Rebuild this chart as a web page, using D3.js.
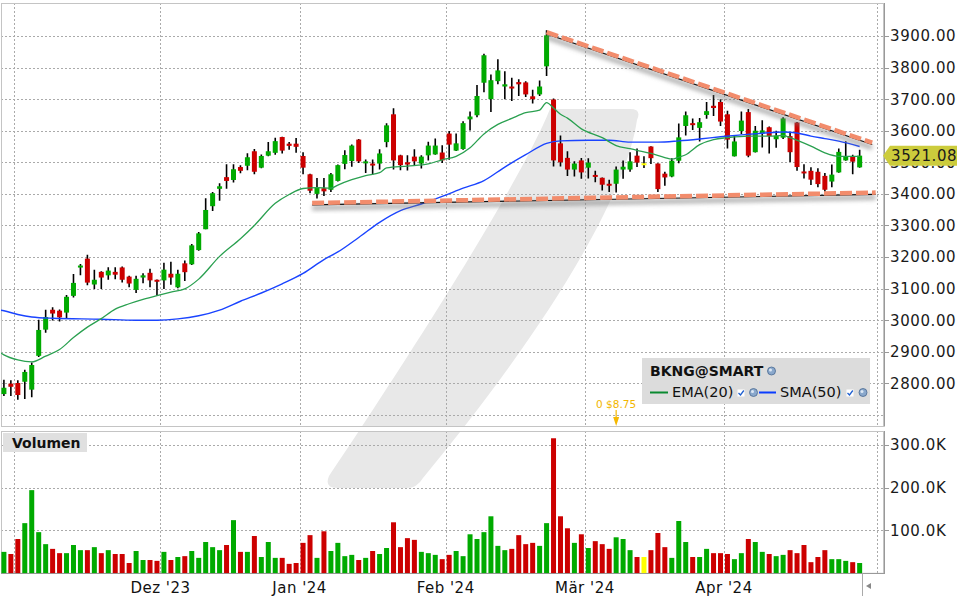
<!DOCTYPE html>
<html><head><meta charset="utf-8">
<script src="https://cdn.jsdelivr.net/npm/d3@7"></script>
<style>
body{margin:0;background:#fff}
svg{display:block}
text{font-family:"DejaVu Sans",Verdana,sans-serif}
</style>
</head><body>
<svg id="c" width="960" height="600"></svg>
<script>
// ---------------- DATA ----------------
const firstDay = "2023-10-30";
const lastDay = "2024-05-01";
const holidays = ["2023-11-23","2023-12-25","2024-01-01","2024-01-15","2024-02-19","2024-03-29"];

const opens = [2766,2799,2801,2805,2780,2887,2970,3033,3030,3024,3077,3167,3195,3113,3153,3142,3153,3167,3138,3096,3135,3150,3128,
3126,3147,3104,3180,3177,3222,3288,3361,3416,3453,3444,3485,3489,3535,3483,3521,3530,3580,3559,3559,
3520,3462,3400,3418,3413,3441,3495,3504,3572,3497,3496,3496,3564,3652,3522,3500,3518,3496,3522,3525,3531,
3591,3537,3542,3636,3649,3752,3700,3757,3740,3740,3754,3753,3709,3715,3804,3699,3560,3514,3477,3506,
3483,3460,3451,3432,3432,3477,3477,3521,3497,3550,3496,3464,3455,3505,3615,3624,3609,3650,3679,3691,
3652,3519,3599,3659,3532,3591,3611,3573,3578,3583,3626,3471,3473,3470,3457,3439,3468,3506,3517,3484];
const highs = [2811,2810,2810,2843,2866,3001,3033,3041,3034,3080,3146,3178,3207,3160,3155,3168,3168,3170,3141,3141,3149,3163,3129,
3182,3185,3160,3189,3241,3279,3386,3406,3434,3494,3494,3491,3529,3542,3525,3564,3578,3581,3564,3577,
3532,3464,3450,3450,3466,3493,3538,3556,3574,3509,3509,3541,3624,3671,3524,3522,3541,3522,3565,3575,3554,
3599,3591,3630,3661,3745,3844,3778,3826,3788,3768,3763,3757,3730,3759,3918,3702,3585,3535,3503,3514,
3513,3473,3452,3445,3487,3506,3532,3544,3519,3551,3497,3470,3513,3623,3661,3639,3640,3691,3713,3700,
3663,3583,3661,3669,3615,3633,3613,3600,3643,3594,3628,3494,3484,3481,3466,3493,3544,3567,3524,3540];
const lows = [2760,2760,2748,2750,2756,2883,2960,2999,2996,3006,3072,3142,3111,3099,3099,3128,3130,3119,3104,3086,3117,3104,3077,
3099,3112,3101,3124,3175,3220,3288,3346,3378,3416,3436,3465,3475,3462,3481,3519,3524,3528,3540,3530,
3462,3402,3385,3393,3406,3439,3478,3486,3498,3466,3461,3477,3548,3477,3475,3474,3490,3480,3506,3524,3498,
3508,3536,3540,3601,3643,3722,3659,3747,3700,3694,3710,3707,3686,3710,3773,3487,3487,3457,3455,3448,
3449,3437,3411,3406,3404,3448,3470,3485,3482,3495,3406,3426,3453,3497,3585,3602,3566,3638,3647,3615,
3544,3518,3590,3516,3531,3547,3528,3546,3574,3501,3473,3449,3428,3421,3407,3421,3467,3505,3462,3483];
const closes = [2786,2789,2763,2836,2858,2969,3010,3021,3009,3074,3118,3173,3119,3128,3135,3157,3144,3128,3116,3131,3142,3126,3122,
3160,3135,3147,3152,3237,3275,3349,3402,3424,3441,3478,3473,3516,3470,3520,3535,3567,3537,3552,3549,
3483,3410,3420,3408,3462,3491,3523,3553,3503,3503,3490,3528,3617,3506,3491,3493,3503,3518,3553,3553,3506,
3556,3560,3624,3645,3710,3839,3760,3791,3747,3734,3747,3715,3700,3740,3902,3506,3500,3477,3496,3468,
3499,3454,3429,3426,3477,3486,3503,3499,3497,3513,3415,3452,3505,3579,3649,3618,3627,3662,3672,3629,
3572,3566,3632,3521,3600,3601,3583,3584,3639,3532,3485,3465,3445,3431,3413,3461,3533,3519,3502,3521.08];
// volume in thousands
const volumes = [50,45,80,117,194,96,68,57,47,47,66,54,54,61,47,54,45,45,24,52,31,31,29,
50,31,38,40,52,36,73,61,54,66,124,50,50,87,38,73,36,36,22,24,
71,89,36,98,52,71,40,43,31,36,52,45,59,119,61,82,78,50,47,43,33,
43,52,40,91,80,96,133,64,54,57,89,68,71,64,117,315,133,105,71,91,
59,75,68,57,84,80,54,38,38,54,94,61,36,122,73,38,38,57,47,47,
45,33,47,80,73,50,45,40,43,54,47,66,26,38,54,33,33,29,26,24];

// EMA(20) read at bar positions
const emaIdx = [-0.5,0,2,4,6,8,10,12,14,16,18,20,22,24,26,28,31,34,36,39,41,43,45,47,48,50,52,54,55,58,61,63,65,67,69,71,73,75,77,78,79,80,81,83,86,88,90,91,93,95,96,97,98,100,102,104,107,110,112,113,116,118,120,123];
const emaVal = [2897,2890,2874,2868,2886,2907,2945,2978,3005,3035,3052,3066,3078,3089,3099,3130,3202,3258,3300,3370,3398,3417,3420,3418,3428,3445,3458,3467,3482,3488,3495,3508,3519,3546,3590,3620,3639,3657,3665,3689,3672,3652,3640,3606,3578,3553,3543,3538,3528,3515,3510,3516,3524,3556,3572,3578,3583,3583,3585,3578,3551,3530,3519,3519];
// SMA(50) read at bar positions
const smaIdx = [-0.5,0,2,4,7,14,19,22,25,28,31,34,37,40,43,46,48,51,54,57,60,63,66,69,72,75,78,80,84,87,90,94,97,100,103,106,109,112,114,116,118,120,123];
const smaVal = [3032,3030,3018,3010,3006,3003,3000,3000,3004,3014,3032,3060,3086,3115,3148,3192,3216,3262,3310,3347,3368,3392,3418,3442,3485,3524,3560,3568,3570,3570,3564,3564,3568,3574,3581,3587,3592,3596,3593,3583,3575,3567,3550];

// trend lines (bar position, price)
const upperTrendIdx = [78, 124.8];
const upperTrendVal = [3912, 3562];
const lowerTrendIdx = [44.3, 125.3];
const lowerTrendVal = [3371, 3404];

const priceTicks = [2700,2800,2900,3000,3100,3200,3300,3400,3500,3600,3700,3800,3900];
const priceLabels = ["","2800.00","2900.00","3000.00","3100.00","3200.00","3300.00","3400.00","3500.00","3600.00","3700.00","3800.00","3900.00"];
const volumeTicks = [100,200,300];
const volumeLabels = ["100.0K","200.0K","300.0K"];
const monthNames = ["Jan","Feb","Mär","Apr","Mai","Jun","Jul","Aug","Sep","Okt","Nov","Dez"];
const shownMonthLabels = ["Dez '23","Jan '24","Feb '24","Mär '24","Apr '24"];
const lastPriceLabel = "3521.08";
const symbolName = "BKNG@SMART";
const legendItems = ["EMA(20)","SMA(50)"];
const dividendIdx = 88;
const dividendText = "0 $8.75";

// ---------------- DATES ----------------
function buildDays(){
  const out=[]; const fmt=d3.utcFormat("%Y-%m-%d");
  let d=new Date(firstDay+"T00:00:00Z"); const end=new Date(lastDay+"T00:00:00Z");
  while(d<=end){
    const wd=d.getUTCDay(); const s=fmt(d);
    if(wd!==0&&wd!==6&&!holidays.includes(s)) out.push(new Date(d));
    d=new Date(d.getTime()+86400000);
  }
  return out;
}
const days = buildDays();

// ---------------- LAYOUT ----------------
const svg = d3.select("#c");
const L=1, R=884, PT=3, PB=426.5, VT=431, VB=573.3;

const x = d3.scaleBand().domain(d3.range(days.length)).range([0.43, R]);
const step = x.step();
const xc = d3.scaleLinear().domain([0, days.length-1]).range([x(0)+step/2, x(days.length-1)+step/2]);
const y = d3.scaleLinear().domain([2700, 3900]).range([414.9, 36]);
const yv = d3.scaleLinear().domain([0, 300]).range([VB, 444.7]);

const defs = svg.append("defs");
defs.append("clipPath").attr("id","cp").append("rect").attr("x",L).attr("y",PT).attr("width",R-L).attr("height",PB-PT);
defs.append("clipPath").attr("id","cv").append("rect").attr("x",L).attr("y",VT).attr("width",R-L).attr("height",VB-VT);
const f = defs.append("filter").attr("id","blur").attr("x","-10%").attr("y","-50%").attr("width","120%").attr("height","200%");
f.append("feGaussianBlur").attr("stdDeviation",2.2);

// watermark (curved slash logo)
const wmPath = "M550,109 L630,109 Q642,109 637,120 C625,200 545,330 423,478 Q417,488 407,488 L337,488 Q324,488 329,476 C380,400 515,195 550,109 Z";
svg.append("g").attr("clip-path","url(#cp)").append("path").attr("d",wmPath).attr("fill","#e8e8e8");
svg.append("g").attr("clip-path","url(#cv)").append("path").attr("d",wmPath).attr("fill","#e8e8e8");

const gridColor="#aaaaaa";
// horizontal grids price
svg.append("g").selectAll("line").data(priceTicks).join("line")
  .attr("x1",L).attr("x2",R).attr("y1",d=>Math.round(y(d))+0.5).attr("y2",d=>Math.round(y(d))+0.5)
  .attr("stroke",gridColor).attr("stroke-dasharray","2,2");
svg.append("g").selectAll("line").data(volumeTicks).join("line")
  .attr("x1",L).attr("x2",R).attr("y1",d=>Math.round(yv(d))+0.5).attr("y2",d=>Math.round(yv(d))+0.5)
  .attr("stroke",gridColor).attr("stroke-dasharray","2,2");

// month starts
const monthStarts = days.map((d,i)=>({d,i})).filter((o,k,a)=>k>0 && o.d.getUTCMonth()!==a[k-1].d.getUTCMonth());
const mx = o => Math.round(x(o.i))+0.5;
svg.append("g").selectAll("line").data(monthStarts).join("line")
  .attr("x1",mx).attr("x2",mx).attr("y1",PT).attr("y2",PB).attr("stroke",gridColor).attr("stroke-dasharray","2,2");
svg.append("g").selectAll("line").data(monthStarts).join("line")
  .attr("x1",mx).attr("x2",mx).attr("y1",VT).attr("y2",VB).attr("stroke",gridColor).attr("stroke-dasharray","2,2");
const monthLabel = d => monthNames[d.getUTCMonth()]+" '"+String(d.getUTCFullYear()).slice(2);
svg.append("g").selectAll("text").data(monthStarts.filter(o=>shownMonthLabels.includes(monthLabel(o.d)))).join("text")
  .attr("x",o=>x(o.i)).attr("y",592.5).attr("text-anchor","middle")
  .attr("font-size",15).attr("letter-spacing",0.5).attr("fill","#111").text(o=>monthLabel(o.d));

// panel borders
svg.append("rect").attr("x",L+0.5).attr("y",PT+0.5).attr("width",R-L-1).attr("height",PB-PT-0.5).attr("fill","none").attr("stroke","#c4c4c4");
svg.append("rect").attr("x",L+0.5).attr("y",VT+0.5).attr("width",R-L-1).attr("height",VB-VT-0.5).attr("fill","none").attr("stroke","#c4c4c4");
svg.append("line").attr("x1",R+0.5).attr("x2",R+0.5).attr("y1",PT).attr("y2",PB).attr("stroke","#999");
svg.append("line").attr("x1",R+0.5).attr("x2",R+0.5).attr("y1",VT).attr("y2",VB).attr("stroke","#999");
svg.append("line").attr("x1",L).attr("x2",R+1).attr("y1",Math.round(VB)+0.5).attr("y2",Math.round(VB)+0.5).attr("stroke","#999");

// price axis labels
const pt = priceTicks.map((v,k)=>({v,l:priceLabels[k]})).filter(o=>o.l);
svg.append("g").selectAll("line").data(pt).join("line")
  .attr("x1",R).attr("x2",R+5).attr("y1",o=>Math.round(y(o.v))+0.5).attr("y2",o=>Math.round(y(o.v))+0.5).attr("stroke","#999");
svg.append("g").selectAll("text").data(pt).join("text")
  .attr("x",890).attr("y",o=>y(o.v)).attr("dy","0.36em").attr("font-size",15).attr("letter-spacing",0.6)
  .attr("fill","#1a1a1a").text(o=>o.l);
const vt = volumeTicks.map((v,k)=>({v,l:volumeLabels[k]}));
svg.append("g").selectAll("line").data(vt).join("line")
  .attr("x1",R).attr("x2",R+5).attr("y1",o=>Math.round(yv(o.v))+0.5).attr("y2",o=>Math.round(yv(o.v))+0.5).attr("stroke","#999");
svg.append("g").selectAll("text").data(vt).join("text")
  .attr("x",890).attr("y",o=>yv(o.v)).attr("dy","0.36em").attr("font-size",15).attr("letter-spacing",0.6)
  .attr("fill","#1a1a1a").text(o=>o.l);

// ---------------- MARKS ----------------
const bars = closes.map((c,i)=>({i,o:opens[i],h:highs[i],l:lows[i],c,v:volumes[i]}));
const col = d => d.c>d.o ? "#00aa00" : (d.c<d.o ? "#cc0000" : "#ffff00");
const bw = 5;
const gp = svg.append("g").attr("clip-path","url(#cp)");

// candles
gp.append("g").selectAll("line").data(bars).join("line")
  .attr("x1",d=>xc(d.i)).attr("x2",d=>xc(d.i)).attr("y1",d=>y(d.h)).attr("y2",d=>y(d.l))
  .attr("stroke","#000").attr("stroke-width",1.6);
gp.append("g").selectAll("rect").data(bars).join("rect")
  .attr("x",d=>xc(d.i)-bw/2).attr("width",bw)
  .attr("y",d=>y(Math.max(d.o,d.c))).attr("height",d=>Math.max(2,Math.abs(y(d.o)-y(d.c))))
  .attr("fill",col);

// moving averages
const lineGen = d3.line().x(d=>xc(d[0])).y(d=>y(d[1])).curve(d3.curveMonotoneX);
gp.append("path").datum(smaIdx.map((k,j)=>[k,smaVal[j]])).attr("d",lineGen)
  .attr("fill","none").attr("stroke","#1a44ff").attr("stroke-width",1.4);
gp.append("path").datum(emaIdx.map((k,j)=>[k,emaVal[j]])).attr("d",lineGen)
  .attr("fill","none").attr("stroke","#2aa050").attr("stroke-width",1.3);

// trend lines
function trend(ix, vals){
  const pts = ix.map((k,j)=>[xc(k), y(vals[j])]);
  const g = gp.append("g");
  g.append("line").attr("x1",pts[0][0]).attr("y1",pts[0][1]+5).attr("x2",pts[1][0]).attr("y2",pts[1][1]+5)
    .attr("stroke","#777").attr("stroke-opacity",0.55).attr("stroke-width",5).attr("filter","url(#blur)");
  g.append("line").attr("x1",pts[0][0]).attr("y1",pts[0][1]+1.8).attr("x2",pts[1][0]).attr("y2",pts[1][1]+1.8)
    .attr("stroke","#111").attr("stroke-width",1.1);
  g.append("line").attr("x1",pts[0][0]).attr("y1",pts[0][1]).attr("x2",pts[1][0]).attr("y2",pts[1][1])
    .attr("stroke","#f28c6c").attr("stroke-width",4.5).attr("stroke-dasharray","12,4");
}
trend(upperTrendIdx, upperTrendVal);
trend(lowerTrendIdx, lowerTrendVal);

// volume bars
svg.append("g").attr("clip-path","url(#cv)").selectAll("rect").data(bars).join("rect")
  .attr("x",d=>xc(d.i)-bw/2).attr("width",bw).attr("y",d=>yv(d.v)).attr("height",d=>yv(0)-yv(d.v))
  .attr("fill",col);

// dividend marker
const dx = xc(dividendIdx);
svg.append("text").attr("x",dx).attr("y",407.5).attr("text-anchor","middle").attr("font-size",10.5)
  .attr("fill","#f2b600").text(dividendText);
svg.append("line").attr("x1",dx).attr("x2",dx).attr("y1",410).attr("y2",419).attr("stroke","#f5b800").attr("stroke-width",1.2);
svg.append("path").attr("d",`M${dx-3},417 L${dx+3},417 L${dx},426 Z`).attr("fill","#f5b800");

// legend
const lg = svg.append("g");
lg.append("rect").attr("x",642).attr("y",358).attr("width",228).attr("height",46).attr("fill","#dcdcdc");
lg.append("text").attr("x",650).attr("y",376).attr("font-size",14).attr("font-weight","bold").attr("fill","#111").text(symbolName);
function globe(cx,cy){
  lg.append("circle").attr("cx",cx).attr("cy",cy).attr("r",4).attr("fill","#8aa8cc").attr("stroke","#4a6a90").attr("stroke-width",0.8);
  lg.append("circle").attr("cx",cx-1).attr("cy",cy-1).attr("r",1.5).attr("fill","#dde8f4");
}
function check(cx,cy){
  lg.append("rect").attr("x",cx-3.5).attr("y",cy-3.5).attr("width",7).attr("height",7).attr("fill","#fff");
  lg.append("path").attr("d",`M${cx-2.5},${cy} L${cx-0.5},${cy+2} L${cx+2.8},${cy-2.5}`).attr("fill","none").attr("stroke","#2060d0").attr("stroke-width",1.3);
}
globe(771.5,371);
lg.append("line").attr("x1",650).attr("x2",668).attr("y1",392.5).attr("y2",392.5).attr("stroke","#0a8a30").attr("stroke-width",2);
lg.append("text").attr("x",672).attr("y",397).attr("font-size",14.5).attr("fill","#111").text(legendItems[0]);
check(741,393); globe(753.5,392.5);
lg.append("line").attr("x1",759).attr("x2",776).attr("y1",392.5).attr("y2",392.5).attr("stroke","#0a3cff").attr("stroke-width",2);
lg.append("text").attr("x",780).attr("y",397).attr("font-size",14.5).attr("fill","#111").text(legendItems[1]);
check(850,393); globe(863,392.5);

// volume label
svg.append("rect").attr("x",3).attr("y",433).attr("width",84).attr("height",19).attr("fill","#e0e0e0");
svg.append("text").attr("x",12).attr("y",448).attr("font-size",14).attr("font-weight","bold").attr("fill","#111").text("Volumen");

// last price tag (covers the 3500.00 label, as in the reference)
const lp = y(closes[closes.length-1]);
svg.append("path").attr("d",`M883,${lp} L890,${lp-10} L957,${lp-10} L957,${lp+10} L890,${lp+10} Z`).attr("fill","#cccc3c");
svg.append("text").attr("x",891).attr("y",lp).attr("dy","0.36em").attr("font-size",15).attr("letter-spacing",0.6).attr("fill","#1a1a1a").text(lastPriceLabel);

// scroll marker
svg.append("line").attr("x1",862.5).attr("x2",862.5).attr("y1",VB).attr("y2",596).attr("stroke","#aaa");
svg.append("path").attr("d","M866,586 L871,583 L871,589 Z").attr("fill","#888");
</script>
</body></html>
